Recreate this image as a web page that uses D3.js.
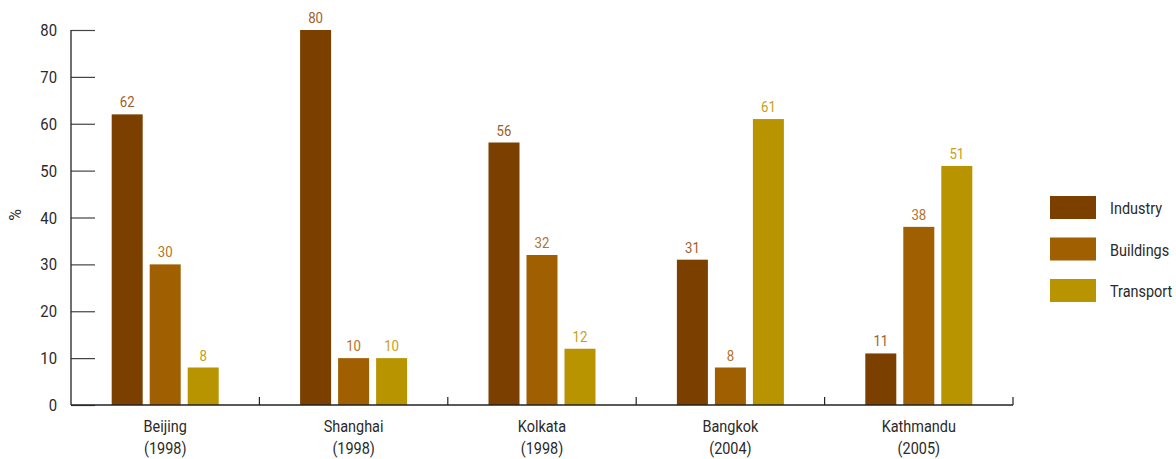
<!DOCTYPE html>
<html><head><meta charset="utf-8">
<script src="https://cdn.jsdelivr.net/npm/d3@7"></script>
<style>
body{margin:0;background:#fff;}
text{font-family:"Roboto","Liberation Sans",sans-serif;}
</style></head>
<body><svg id="c" width="1176" height="459"></svg>
<script>
const cities = ["Beijing", "Shanghai", "Kolkata", "Bangkok", "Kathmandu"];
const years = ["(1998)", "(1998)", "(1998)", "(2004)", "(2005)"];
const seriesNames = ["Industry", "Buildings", "Transport"];
const industry = [62, 80, 56, 31, 11];
const buildings = [30, 10, 32, 8, 38];
const transport = [8, 10, 12, 61, 51];
const yTicks = [0, 10, 20, 30, 40, 50, 60, 70, 80];

const barColors = ["#7B3F00", "#A05F00", "#B89400"];
const labelColors = ["#9E5E2C", "#B2732A", "#C6A020"];
const series = [industry, buildings, transport];

const svg = d3.select("#c");
const x0 = 71, x1 = 1013, yTop = 30, yBot = 405;
const x = d3.scaleBand().domain(cities).range([x0, x1]);
const y = d3.scaleLinear().domain([0, 80]).range([yBot, yTop]);
const inner = d3.scaleBand().domain(seriesNames).range([0, 107]).paddingInner(7/38);

function txt(g, tx, ty, str, size, fill, anchor, sx) {
  return g.append("text")
    .attr("transform", `translate(${tx},${ty}) scale(${sx},1)`)
    .attr("text-anchor", anchor).attr("font-size", size).attr("fill", fill).text(str);
}

// bars
seriesNames.forEach((s, si) => {
  const bx = c => x(c) + (x.bandwidth() - 107) / 2 + inner(s);
  svg.append("g").selectAll("rect").data(cities).join("rect")
    .attr("x", bx)
    .attr("width", inner.bandwidth())
    .attr("y", (c, i) => y(series[si][i]))
    .attr("height", (c, i) => yBot - y(series[si][i]))
    .attr("fill", barColors[si]);
  const g = svg.append("g");
  cities.forEach((c, i) => {
    txt(g, bx(c) + inner.bandwidth() / 2, y(series[si][i]) - 7, series[si][i], 15, labelColors[si], "middle", 0.88);
  });
});

// y axis
const ya = svg.append("g").attr("transform", `translate(${x0},0)`)
  .call(d3.axisRight(y).tickValues(yTicks).tickSize(24).tickFormat(""));
ya.select(".domain").remove();
ya.selectAll(".tick line").attr("stroke", "#444").attr("stroke-width", 1.2);
svg.append("line").attr("x1", x0).attr("x2", x0).attr("y1", yTop).attr("y2", yBot).attr("stroke", "#222").attr("stroke-width", 1.3);
const yl = svg.append("g");
yTicks.forEach(d => txt(yl, 57, y(d) + 6, d, 16.5, "#2a2a2a", "end", 0.9));
svg.append("text").attr("transform", `translate(21,215) rotate(-90)`)
  .attr("text-anchor", "middle").attr("font-size", 16).attr("fill", "#2a2a2a").text("%");

// x axis
svg.append("line").attr("x1", x0).attr("x2", x1).attr("y1", yBot).attr("y2", yBot).attr("stroke", "#222").attr("stroke-width", 1.3);
svg.append("g").selectAll("line").data(cities).join("line")
  .attr("x1", c => x(c) + x.bandwidth()).attr("x2", c => x(c) + x.bandwidth())
  .attr("y1", yBot).attr("y2", yBot - 8).attr("stroke", "#222").attr("stroke-width", 1.2);
const xl = svg.append("g");
cities.forEach((c, i) => {
  txt(xl, x(c) + x.bandwidth() / 2, 432, c, 17, "#2a2a2a", "middle", 0.85);
  txt(xl, x(c) + x.bandwidth() / 2, 454, years[i], 17, "#2a2a2a", "middle", 0.85);
});

// legend
const lg = svg.append("g");
seriesNames.forEach((s, i) => {
  lg.append("rect").attr("x", 1050).attr("y", 196 + i * 41.5).attr("width", 46).attr("height", 23).attr("fill", barColors[i]);
  txt(lg, 1110, 196 + i * 41.5 + 18, s, 17, "#2a2a2a", "start", 0.85);
});
</script></body></html>
